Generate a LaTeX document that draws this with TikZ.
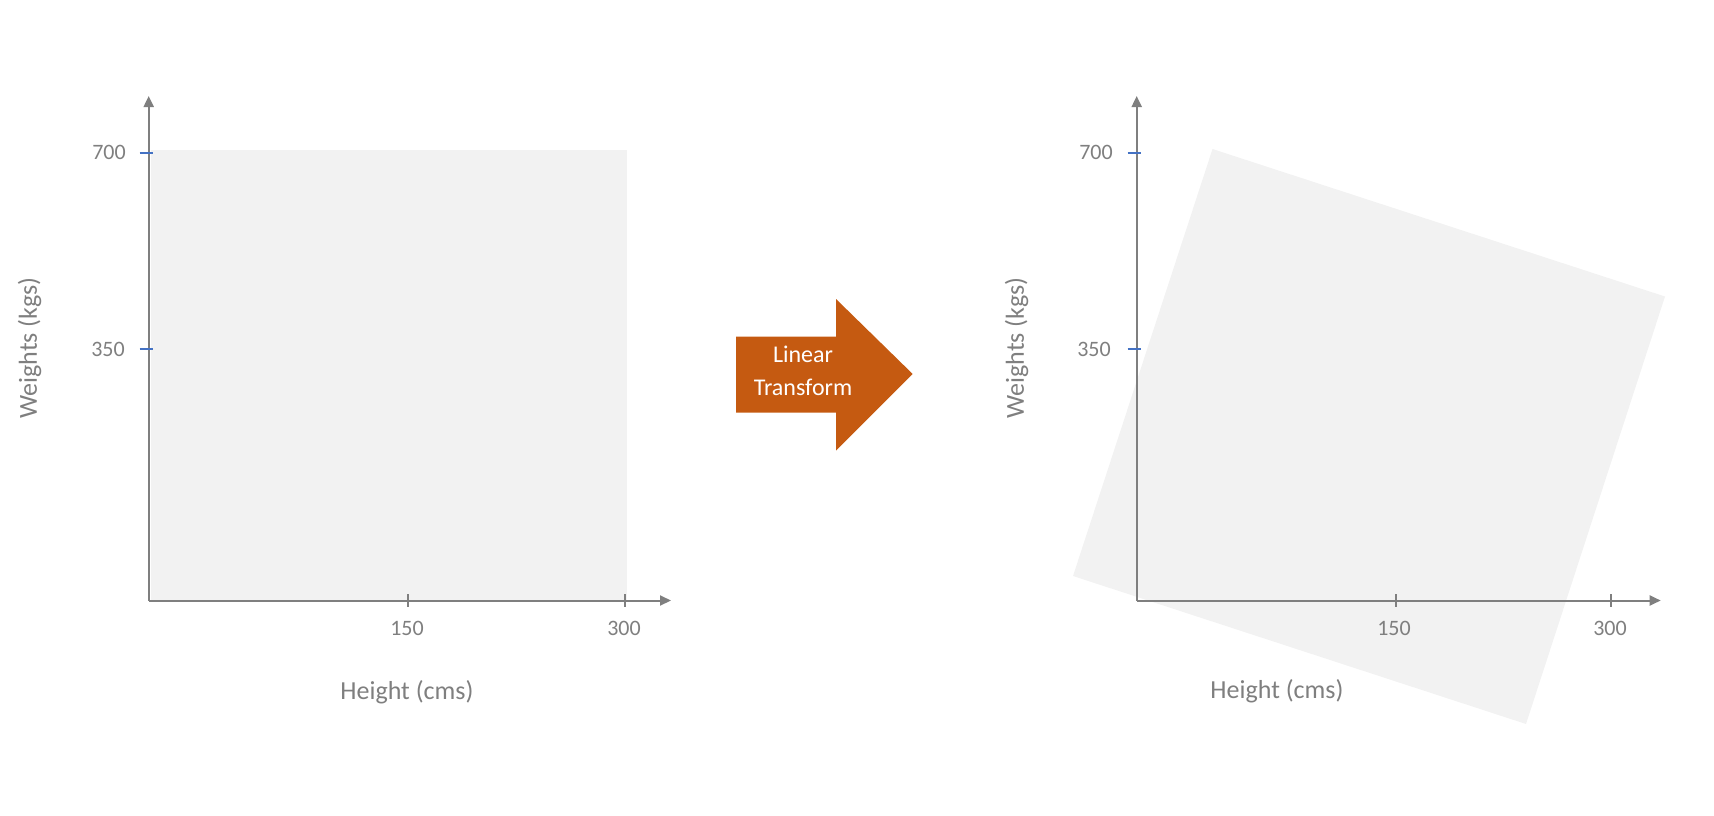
\documentclass[tikz,border=0pt]{standalone}
\usepackage{fontspec}
\setmainfont{Carlito}
\usetikzlibrary{arrows.meta}
\definecolor{axisgray}{HTML}{7F7F7F}
\definecolor{boxfill}{HTML}{F2F2F2}
\definecolor{tickblue}{HTML}{4472C4}
\definecolor{arroworange}{HTML}{C55A11}
\tikzset{
  axisline/.style={draw=axisgray, line width=2pt, -{Triangle[length=11pt,width=10pt]}},
  ytick/.style={draw=tickblue, line width=2pt},
  xtick/.style={draw=axisgray, line width=2pt},
  ticklabel/.style={text=axisgray, font=\fontsize{22}{26}\selectfont, inner sep=0pt},
  axistitle/.style={text=axisgray, font=\fontsize{26}{30}\selectfont, inner sep=0pt},
  arrowtext/.style={text=white, font=\fontsize{24}{32.7}\selectfont, align=center, inner sep=0pt}
}
\begin{document}
\begin{tikzpicture}[x=1pt,y=-1pt]
\useasboundingbox (0,0) rectangle (1714,816);
% ---------- left plot ----------
\fill[boxfill] (151,150) rectangle (627,600.5);
\coordinate (LO) at (148.7,600.5);
\coordinate (LYtip) at (148.7,96);
\coordinate (LXtip) at (671,600.5);
\draw[axisline] (LO) -- (LYtip);
\draw[axisline] (LO) -- (LXtip);
\draw[ytick] (139.7,152.5) -- (152.7,152.5);
\draw[ytick] (139.7,348.7) -- (152.7,348.7);
\draw[xtick] (407.7,594) -- (407.7,607);
\draw[xtick] (625.3,594) -- (625.3,607);
\node[ticklabel] (l700) at (109,152) {700};
\node[ticklabel] (l350) at (108,349) {350};
\node[ticklabel] (l150) at (407,628) {150};
\node[ticklabel] (l300) at (624,628) {300};
\node[axistitle] (lxt) at (407,692) {Height (cms)};
\node[axistitle, rotate=90] (lyt) at (29.5,348) {Weights (kgs)};
% ---------- transform arrow ----------
\fill[arroworange] (736,336.7) -- (836,336.7) -- (836,299) -- (912.7,374)
  -- (836,450.5) -- (836,412.5) -- (736,412.5) -- cycle;
\node[arrowtext] (lt) at (803,371) {Linear\\Transform};
% ---------- right plot ----------
\fill[boxfill] (1212.5,149) -- (1665,296.5) -- (1526,724) -- (1073,576) -- cycle;
\coordinate (RO) at (1136.7,600.5);
\coordinate (RYtip) at (1136.7,96);
\coordinate (RXtip) at (1660.7,600.5);
\draw[axisline] (RO) -- (RYtip);
\draw[axisline] (RO) -- (RXtip);
\draw[ytick] (1127.7,152.5) -- (1140.7,152.5);
\draw[ytick] (1127.7,348.7) -- (1140.7,348.7);
\draw[xtick] (1395.9,594) -- (1395.9,607);
\draw[xtick] (1611,594) -- (1611,607);
\node[ticklabel] (r700) at (1096,152) {700};
\node[ticklabel] (r350) at (1094,349) {350};
\node[ticklabel] (r150) at (1394,628) {150};
\node[ticklabel] (r300) at (1610,628) {300};
\node[axistitle] (rxt) at (1277,691) {Height (cms)};
\node[axistitle, rotate=90] (ryt) at (1016.6,348) {Weights (kgs)};
\end{tikzpicture}
\end{document}
